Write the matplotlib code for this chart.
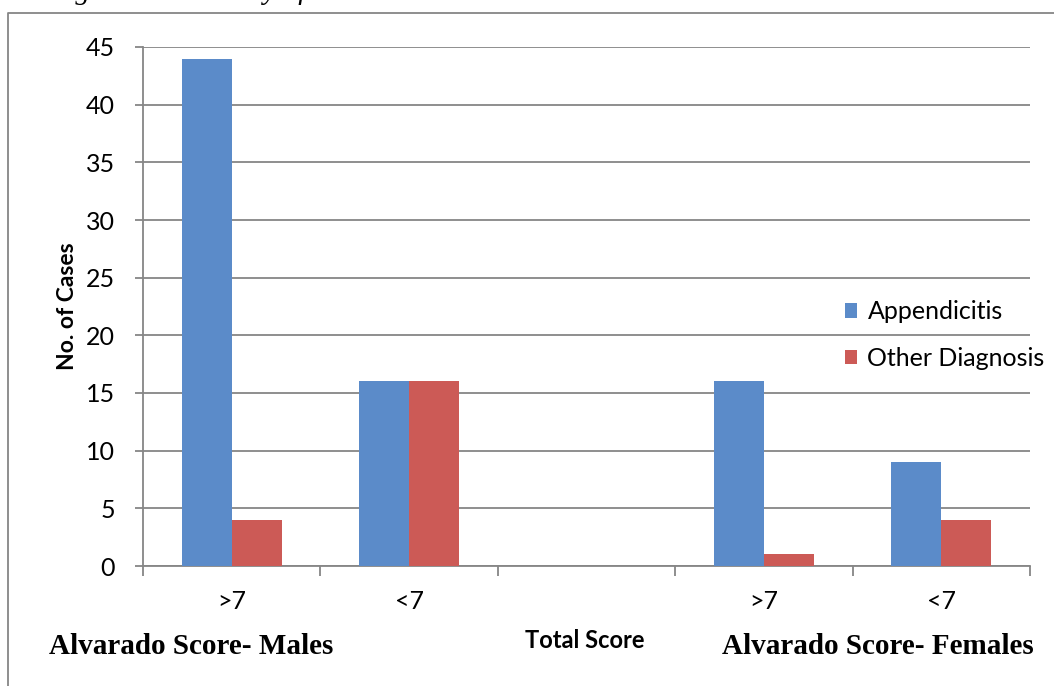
import matplotlib
matplotlib.use("Agg")
import matplotlib.pyplot as plt
import numpy as np

# case counts per score group (males >7, <7, gap, females >7, <7)
groups = [">7", "<7", "", ">7", "<7"]
appendicitis = [44, 16, 0, 16, 9]
other_diagnosis = [4, 16, 0, 1, 4]

blue = "#5B8BC9"
red = "#CC5A56"
grey = "#868686"
sans = ["Lato", "DejaVu Sans"]
serif = ["Liberation Serif", "DejaVu Serif"]

fig = plt.figure(figsize=(10.54, 6.86), dpi=100)
ax = fig.add_axes([143 / 1054, 1 - 566 / 686, (1030 - 143) / 1054, (566 - 47) / 686])

x = np.arange(len(groups))
w = 0.282
ax.bar(x - w / 2, appendicitis, w, color=blue, label="Appendicitis", zorder=3)
ax.bar(x + w / 2, other_diagnosis, w, color=red, label="Other Diagnosis", zorder=3)

ax.set_xlim(-0.5, len(groups) - 0.5)
ax.set_ylim(0, 45)
ax.set_yticks(np.arange(0, 46, 5))
ax.yaxis.grid(True, color=grey, linewidth=1.3, zorder=0)
ax.set_axisbelow(True)

# category labels centred, tick marks on the boundaries
ax.set_xticks(x)
ax.set_xticklabels(groups, fontsize=18, family=sans)
ax.set_xticks(np.arange(-0.5, len(groups), 1), minor=True)
ax.tick_params(axis="x", which="major", length=0, pad=17)
ax.tick_params(axis="x", which="minor", length=7, width=1.3, color=grey, direction="out")
ax.tick_params(axis="y", length=6, width=1.3, color=grey, labelsize=18, pad=14)
for lab in ax.get_yticklabels():
    lab.set_family(sans)

for side in ["top", "right"]:
    ax.spines[side].set_visible(False)
for side in ["left", "bottom"]:
    ax.spines[side].set_color(grey)
    ax.spines[side].set_linewidth(1.3)

ax.set_ylabel("No. of Cases", fontsize=16.5, fontweight="bold", family=sans, labelpad=6)

leg = ax.legend(loc="upper left", bbox_to_anchor=(0.766, 0.555), frameon=False,
                prop={"family": sans, "size": 18}, handlelength=0.5, handleheight=0.5,
                handletextpad=0.4, labelspacing=0.95)

# footer labels
fig.text(585 / 1054, 1 - 640 / 686, "Total Score", ha="center", va="center",
         fontsize=17, fontweight="bold", family=sans)
fig.text(49 / 1054, 1 - 646 / 686, "Alvarado Score- Males", ha="left", va="center",
         fontsize=21, fontweight="bold", family=serif)
fig.text(1034 / 1054, 1 - 646 / 686, "Alvarado Score- Females", ha="right", va="center",
         fontsize=21, fontweight="bold", family=serif)

# caption line above the chart frame
fig.text(0.0, 1.012, "3: Diagnostic Accuracy of Alvarado Score in 100 Patients", ha="left",
         va="center", fontsize=21, style="italic", family=serif)

# outer chart frame
frame = plt.Line2D([8 / 1054, 8 / 1054, 1.2], [-0.1, 1 - 13 / 686, 1 - 13 / 686],
                   transform=fig.transFigure, color=grey, linewidth=1.3)
fig.add_artist(frame)

fig.savefig("out.png", dpi=100)
